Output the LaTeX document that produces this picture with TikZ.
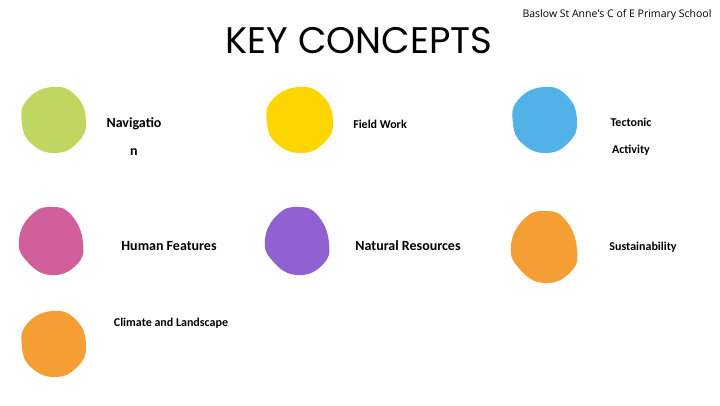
\documentclass[tikz,border=0pt]{standalone}
\usepackage{fontspec}
\setmainfont{Carlito}
\newfontfamily\titlefont{Poppins}
\newfontfamily\schoolfont{Open Sans}

\definecolor{blobgreen}{HTML}{BFD660}
\definecolor{blobyellow}{HTML}{FDD500}
\definecolor{blobblue}{HTML}{52B1E6}
\definecolor{blobpink}{HTML}{D15F9B}
\definecolor{blobpurple}{HTML}{9261D1}
\definecolor{bloborange}{HTML}{F59E34}

\tikzset{
  concept/.style={font=\bfseries, inner sep=0pt, align=center},
}

% round-ish blob: name, x, y, rx, ry, colour
\newcommand{\roundblob}[6]{
  \coordinate (#1) at (#2,#3);
  \fill[#6, shift={(#1)}, xscale=#4, yscale=#5]
    plot[smooth cycle, tension=0.8] coordinates
    {(1,0.05) (0.74,0.68) (0.05,1) (-0.7,0.72) (-1,0.1) (-0.85,-0.6) (-0.05,-1) (0.7,-0.72)};
}
% egg-like blob, narrower at the top: name, x, y, rx, ry, colour
\newcommand{\eggblob}[6]{
  \coordinate (#1) at (#2,#3);
  \fill[#6, shift={(#1)}, xscale=#4, yscale=#5]
    plot[smooth cycle, tension=0.8] coordinates
    {(1,0.05) (0.8,0.7) (0.0,1) (-0.75,0.6) (-1,-0.05) (-0.6,-0.78) (0.05,-1) (0.65,-0.75)};
}

\begin{document}
\begin{tikzpicture}[x=1pt,y=-1pt]
    \useasboundingbox[fill=white] (0,0) rectangle (720,405);

    \node (school)[font=\schoolfont\fontsize{10.5}{12}\selectfont, inner sep=0pt] at (617,15) {Baslow St Anne's C of E Primary School};
    \node (title)[font=\titlefont\fontsize{37}{40}\selectfont, inner sep=0pt] at (359,41) {KEY CONCEPTS};

    \roundblob{navB}{54}{120}{32}{33}{blobgreen}
    \roundblob{fieldB}{300}{120}{33}{33}{blobyellow}
    \roundblob{tectB}{545}{120}{32}{33}{blobblue}
    \eggblob{humanB}{51}{241}{32}{34}{blobpink}
    \eggblob{naturalB}{297}{241}{32}{34}{blobpurple}
    \eggblob{sustB}{544}{247}{33}{36}{bloborange}
    \roundblob{climB}{54}{344}{32}{33}{bloborange}

    \node (nav)[concept, font=\bfseries\fontsize{14}{28}\selectfont] at (134,137) {Navigatio\\n};
    \node (field)[concept, font=\bfseries\fontsize{12}{13}\selectfont] at (380,124) {Field Work};
    \node (tect)[concept, font=\bfseries\fontsize{12}{27}\selectfont] at (631,137) {Tectonic\\Activity};
    \node (human)[concept, font=\bfseries\fontsize{14}{16}\selectfont] at (169,246) {Human Features};
    \node (natural)[concept, font=\bfseries\fontsize{14}{16}\selectfont] at (408,246) {Natural Resources};
    \node (sust)[concept, font=\bfseries\fontsize{12}{13}\selectfont] at (643,247) {Sustainability};
    \node (clim)[concept, font=\bfseries\fontsize{12}{13}\selectfont] at (171,323) {Climate and Landscape};
\end{tikzpicture}
\end{document}
